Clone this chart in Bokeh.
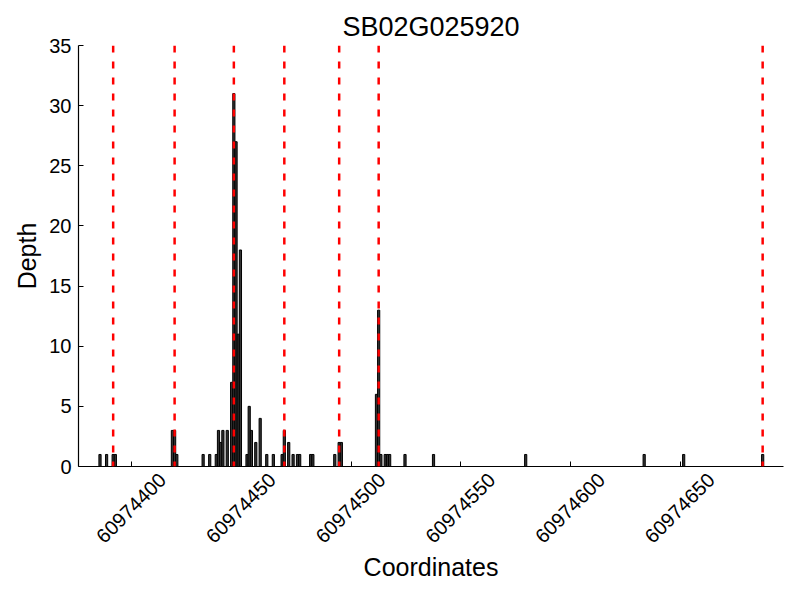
import numpy as np
from bokeh.plotting import figure
from bokeh.models import Range1d, FixedTicker, Span, LinearAxis
from bokeh.embed import file_html
from bokeh.resources import INLINE

gene = "SB02G025920"

# genomic coordinates of covered bases and their read depth
positions = [60974385, 60974388, 60974391, 60974392,
             60974418, 60974419, 60974420,
             60974432, 60974435, 60974438, 60974439, 60974440, 60974441, 60974443,
             60974445, 60974446, 60974447, 60974448, 60974449,
             60974452, 60974453, 60974454, 60974456, 60974458,
             60974461, 60974464, 60974468, 60974469, 60974471, 60974473,
             60974475, 60974476, 60974481, 60974482,
             60974492, 60974494, 60974495,
             60974511, 60974512, 60974513, 60974515, 60974516, 60974517,
             60974524, 60974537, 60974579, 60974633, 60974651, 60974687]
depths = [1, 1, 1, 1,
          3, 3, 1,
          1, 1, 1, 3, 2, 3, 3,
          7, 31, 27, 11, 18,
          1, 5, 3, 2, 4,
          1, 1, 1, 3, 2, 1,
          1, 1, 1, 1,
          1, 2, 2,
          6, 13, 1, 1, 1, 1,
          1, 1, 1, 1, 1, 1]

# exon boundaries (red dashed lines)
boundaries = [60974391, 60974419, 60974446, 60974469, 60974494, 60974512, 60974687]

x_ticks = [60974400, 60974450, 60974500, 60974550, 60974600, 60974650]
y_ticks = [0, 5, 10, 15, 20, 25, 30, 35]
x_start, x_end = 60974375.7, 60974697.0
y_start, y_end = 0, 35

FONT = "Liberation Sans"

p = figure(width=784, height=584, output_backend="svg", toolbar_location=None,
           x_range=Range1d(x_start, x_end), y_range=Range1d(y_start, y_end),
           min_border_left=78, min_border_right=1, min_border_top=45,
           min_border_bottom=118)
p.outline_line_color = None
p.grid.visible = False
p.background_fill_color = "white"
p.border_fill_color = "white"

left = np.array(positions, dtype=float)
p.quad(left=left, right=left + 1, bottom=0, top=depths,
       fill_color="#333333", line_color="black", line_width=1)

for b in boundaries:
    p.add_layout(Span(location=b + 0.5, dimension="height", line_color="red",
                      line_width=2.5, line_dash="7 9"))

p.title.text = gene
p.title.align = "center"
p.title.text_font = FONT
p.title.text_font_size = "27px"
p.title.text_font_style = "normal"
p.title.text_color = "black"
p.title.standoff = 7

p.xaxis.ticker = FixedTicker(ticks=x_ticks)
p.yaxis.ticker = FixedTicker(ticks=y_ticks)
p.xaxis.major_label_overrides = {t: "" for t in x_ticks}

for ax in (p.xaxis[0], p.yaxis[0]):
    ax.major_tick_in = 5
    ax.major_tick_out = 0
    ax.minor_tick_line_color = None
    ax.axis_line_color = "black"
    ax.axis_line_width = 1.2
    ax.major_tick_line_color = "black"
    ax.major_label_text_font = FONT
    ax.major_label_text_font_size = "20px"
    ax.major_label_text_color = "black"
    ax.axis_label_text_font = FONT
    ax.axis_label_text_font_size = "25px"
    ax.axis_label_text_font_style = "normal"
    ax.axis_label_text_color = "black"

p.yaxis.axis_label = "Depth"
p.yaxis.major_label_standoff = 7
p.xaxis.major_label_standoff = 0

# label-only axis: rotated tick labels centred under the ticks of the main axis
shift = 14.0
p.extra_x_ranges = {"labels": Range1d(x_start - shift, x_end - shift)}
lab_ax = LinearAxis(x_range_name="labels", ticker=FixedTicker(ticks=x_ticks),
                    axis_label="Coordinates")
lab_ax.formatter.use_scientific = False
lab_ax.major_label_orientation = np.pi / 4
lab_ax.axis_line_color = None
lab_ax.major_tick_line_color = None
lab_ax.minor_tick_line_color = None
lab_ax.major_label_standoff = 4
lab_ax.major_label_text_font = FONT
lab_ax.major_label_text_font_size = "20px"
lab_ax.major_label_text_color = "black"
lab_ax.axis_label_text_font = FONT
lab_ax.axis_label_text_font_size = "25px"
lab_ax.axis_label_text_font_style = "normal"
lab_ax.axis_label_text_color = "black"
lab_ax.axis_label_standoff = 1
p.add_layout(lab_ax, "below")

open("out.html", "w").write(file_html(p, INLINE))
